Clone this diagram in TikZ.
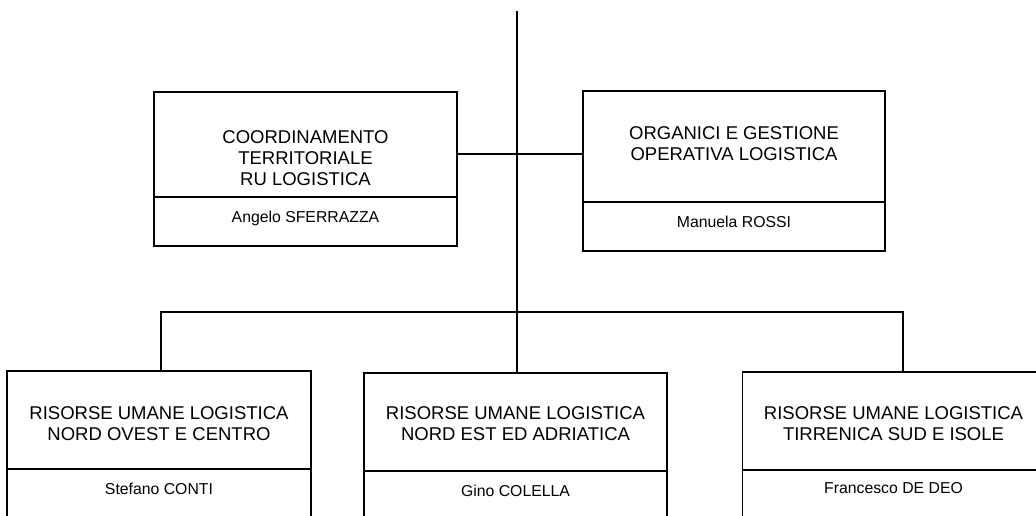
\documentclass[tikz,border=0pt]{standalone}
\usepackage{fontspec}
\setmainfont{Liberation Sans}
\begin{document}
\begin{tikzpicture}[x=1pt,y=-1pt,
  box/.style={draw=black, line width=1.6pt, rectangle, inner sep=0pt, minimum width=303pt},
  ttl/.style={align=center, inner sep=0pt, font=\fontsize{18.5}{21}\selectfont},
  nm/.style={inner sep=0pt, font=\fontsize{15.8}{19}\selectfont},
  conn/.style={draw=black, line width=1.8pt}]
\useasboundingbox (0,0) rectangle (1036,515);
% top row
\node[box, minimum height=105pt] (b1) at (305.5,144.5) {};
\node[box, minimum height=49pt] (b1n) at (305.5,221.5) {};
\node[ttl] (t1) at (305.5,158) {COORDINAMENTO\\TERRITORIALE\\RU LOGISTICA};
\node[nm] (n1) at (305.5,218) {Angelo SFERRAZZA};
\node[box, minimum height=111pt, minimum width=302pt] (b2) at (734,146.5) {};
\node[box, minimum height=49pt, minimum width=302pt] (b2n) at (734,226.5) {};
\node[ttl] (t2) at (734,144) {ORGANICI E GESTIONE\\OPERATIVA LOGISTICA};
\node[nm] (n2) at (734,221.5) {Manuela ROSSI};
% bottom row
\node[box, minimum height=98pt, minimum width=304pt] (b3) at (159,420) {};
\node[box, minimum height=70pt, minimum width=304pt] (b3n) at (159,504) {};
\node[ttl] (t3) at (159,423.5) {RISORSE UMANE LOGISTICA\\NORD OVEST E CENTRO};
\node[nm] (n3) at (159,488.5) {Stefano CONTI};
\node[box, minimum height=98pt] (b4) at (515.5,422) {};
\node[box, minimum height=70pt] (b4n) at (515.5,506) {};
\node[ttl] (t4) at (515.5,423.5) {RISORSE UMANE LOGISTICA\\NORD EST ED ADRIATICA};
\node[nm] (n4) at (515.5,491) {Gino COLELLA};
\node[box, minimum height=98pt] (b5) at (894,421) {};
\node[box, minimum height=70pt] (b5n) at (894,505) {};
\node[ttl] (t5) at (893.5,424) {RISORSE UMANE LOGISTICA\\TIRRENICA SUD E ISOLE};
\node[nm] (n5) at (893.5,488.5) {Francesco DE DEO};
% connectors
\coordinate (top) at (517,11);
\coordinate (hub) at (517,154);
\coordinate (bus) at (517,312);
\coordinate (bl) at (161,312);
\coordinate (br) at (903,312);
\draw[conn] (top) -- (bus) -- (bus |- b4.north);
\draw[conn] (b1.east |- hub) -- (b2.west |- hub);
\draw[conn] (bl |- b3.north) -- (bl) -- (br) -- (br |- b5.north);
\end{tikzpicture}
\end{document}
